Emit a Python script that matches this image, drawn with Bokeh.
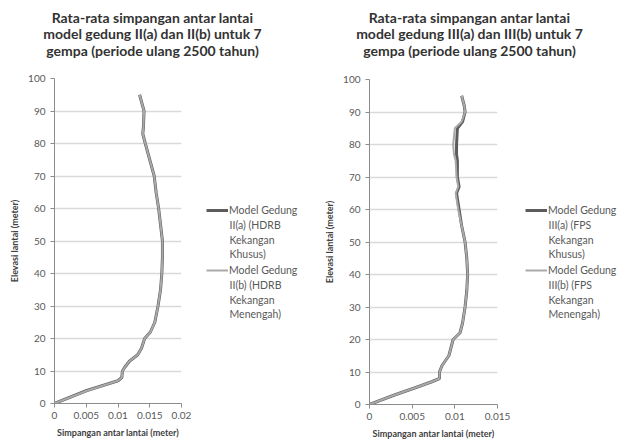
from bokeh.plotting import figure
from bokeh.layouts import row, column
from bokeh.models import (Label, Legend, LegendItem, FixedTicker, CustomJSTickFormatter, Range1d)
from bokeh.embed import file_html
from bokeh.resources import INLINE

# ---------------- data ----------------
titles_left = ["Rata-rata simpangan antar lantai",
               "model gedung II(a) dan II(b) untuk 7",
               "gempa (periode ulang 2500 tahun)"]
titles_right = ["Rata-rata simpangan antar lantai",
                "model gedung III(a) dan III(b) untuk 7",
                "gempa (periode ulang 2500 tahun)"]

y_ticks = [0, 10, 20, 30, 40, 50, 60, 70, 80, 90, 100]
x_ticks_left = [0, 0.005, 0.01, 0.015, 0.02]
x_ticks_right = [0, 0.005, 0.01, 0.015]

elev_left = [0, 4, 7, 8, 10, 11, 13, 15, 17, 20, 22, 25, 30, 35, 40, 45, 50,
             55, 60, 65, 70, 75, 80, 83, 85, 90, 95]
drift_IIa = [0, 0.0051, 0.0100, 0.0106, 0.0107, 0.0110, 0.0118, 0.0131, 0.0137,
             0.0142, 0.0151, 0.0158, 0.0163, 0.0167, 0.0169, 0.0170, 0.0170,
             0.0167, 0.0164, 0.0160, 0.0157, 0.0150, 0.0143, 0.0139, 0.0140,
             0.0141, 0.0134]
drift_IIb = [0, 0.0052, 0.0100, 0.0106, 0.0107, 0.0110, 0.0118, 0.0131, 0.0137,
             0.0142, 0.0151, 0.0158, 0.0163, 0.0167, 0.0169, 0.0170, 0.0170,
             0.0167, 0.0164, 0.0160, 0.0157, 0.0150, 0.0143, 0.0139, 0.0140,
             0.0141, 0.0134]

elev_right = [0, 3, 5, 7, 8, 10, 12, 15, 17, 20, 22, 25, 30, 35, 40, 45, 50,
              55, 60, 65, 67, 70, 75, 77, 80, 85, 87, 90, 92, 95]
drift_IIIa = [0, 0.0030, 0.0052, 0.0073, 0.0082, 0.0082, 0.0085, 0.0093, 0.0095,
              0.0098, 0.0106, 0.0109, 0.0112, 0.0114, 0.0115, 0.0114, 0.0112,
              0.0108, 0.0105, 0.0102, 0.0105, 0.0103, 0.0103, 0.0102, 0.0102,
              0.0103, 0.0109, 0.0112, 0.0111, 0.0108]
drift_IIIb = [0, 0.0030, 0.0052, 0.0073, 0.0082, 0.0082, 0.0085, 0.0093, 0.0095,
              0.0098, 0.0106, 0.0109, 0.0112, 0.0114, 0.0115, 0.0114, 0.0112,
              0.0108, 0.0104, 0.0101, 0.0104, 0.0102, 0.0101, 0.0099, 0.0098,
              0.0100, 0.0108, 0.0112, 0.0111, 0.0108]

legend_left = [["Model Gedung", "II(a) (HDRB", "Kekangan", "Khusus)"],
               ["Model Gedung", "II(b) (HDRB", "Kekangan", "Menengah)"]]
legend_right = [["Model Gedung", "III(a) (FPS", "Kekangan", "Khusus)"],
                ["Model Gedung", "III(b) (FPS", "Kekangan", "Menengah)"]]

x_label = "Simpangan antar lantai (meter)"
y_label = "Elevasi lantai (meter)"

FONT = "Lato"
DARK = "#5c5c5c"
LIGHT = "#a9a9a9"
TITLE_H = 70
CHART_H = 443 - TITLE_H
LINE_STEP = 14.5


def bare(width, height):
    f = figure(width=width, height=height, output_backend="svg", toolbar_location=None,
               x_range=Range1d(0, 1), y_range=Range1d(0, 1),
               min_border_left=0, min_border_right=0,
               min_border_top=0, min_border_bottom=0)
    f.axis.visible = False
    f.grid.visible = False
    f.outline_line_color = None
    return f


def make_title(width, titles, cx):
    t = bare(width, TITLE_H)
    for i, txt in enumerate(titles):
        t.add_layout(Label(x=cx, y=TITLE_H - 16.7 - i * 16.7, x_units="screen",
                           y_units="screen", text=txt, text_align="center",
                           text_baseline="middle", text_font=FONT,
                           text_font_size="14px", text_font_style="bold",
                           text_color="#333333"))
    return t


def make_chart(x_ticks, elev, da, db, border_left, frame_w, top, bottom):
    p = figure(width=border_left + frame_w + 14, height=CHART_H, output_backend="svg",
               toolbar_location=None,
               x_range=Range1d(x_ticks[0], x_ticks[-1]), y_range=Range1d(0, 100),
               min_border_left=border_left, min_border_right=14,
               min_border_top=top, min_border_bottom=bottom)
    p.outline_line_color = None
    p.xgrid.visible = False
    p.ygrid.grid_line_color = "#d9d9d9"
    p.ygrid.grid_line_width = 1.5

    p.xaxis.ticker = FixedTicker(ticks=x_ticks)
    p.yaxis.ticker = FixedTicker(ticks=y_ticks)
    p.xaxis.formatter = CustomJSTickFormatter(code="return tick.toString();")
    for ax in (p.xaxis, p.yaxis):
        ax.axis_line_color = "#8c8c8c"
        ax.major_tick_line_color = "#8c8c8c"
        ax.major_tick_in = 0
        ax.major_tick_out = 4
        ax.minor_tick_line_color = None
        ax.major_label_text_font = FONT
        ax.major_label_text_font_size = "10px"
        ax.major_label_text_color = "#595959"
        ax.axis_label_text_font = FONT
        ax.axis_label_text_font_size = "9px"
        ax.axis_label_text_font_style = "bold"
        ax.axis_label_text_color = "#404040"
    p.xaxis.axis_label = x_label
    p.yaxis.axis_label = y_label
    p.xaxis.major_label_standoff = 4
    p.xaxis.axis_label_standoff = 5
    p.yaxis.major_label_standoff = 5
    p.yaxis.axis_label_standoff = 5

    p.line(da, elev, line_color=DARK, line_width=3)
    p.line(db, elev, line_color=LIGHT, line_width=2)
    return p


def make_legend(width, elev, da, db, labels, glyph_x, first_y, frame_bottom):
    # frame of this panel is aligned with the chart frame in the row layout;
    # screen y is measured upward from that frame's bottom edge
    lf = bare(width, CHART_H)
    # series drawn outside this panel's view; only their legend samples show
    lf.x_range = Range1d(10, 11)
    ra = lf.line(da, elev, line_color=DARK, line_width=3)
    rb = lf.line(db, elev, line_color=LIGHT, line_width=2)
    item_gap = 60
    legend = Legend(items=[LegendItem(label=labels[0][0], renderers=[ra]),
                           LegendItem(label=labels[1][0], renderers=[rb])],
                    location=(glyph_x, frame_bottom - first_y - item_gap - 7),
                    border_line_color=None, background_fill_alpha=0,
                    label_text_font=FONT, label_text_font_size="10.5px",
                    label_text_color="#595959", glyph_width=22, glyph_height=14,
                    label_height=14, label_standoff=1, spacing=item_gap - 14,
                    padding=0, margin=0)
    lf.add_layout(legend, "center")
    for k, lines in enumerate(labels):
        for j, txt in enumerate(lines[1:], start=1):
            lf.add_layout(Label(x=glyph_x + 23,
                                y=frame_bottom - first_y - k * item_gap - j * LINE_STEP,
                                x_units="screen", y_units="screen", text=txt,
                                text_align="left", text_baseline="middle",
                                text_font=FONT, text_font_size="10.5px",
                                text_color="#595959"))
    return lf


t1 = make_title(313, titles_left, 152)
t2 = make_title(314, titles_right, 156)
p1 = make_chart(x_ticks_left, elev_left, drift_IIa, drift_IIb, 54, 127, 8, 40)
p2 = make_chart(x_ticks_right, elev_right, drift_IIIa, drift_IIIb, 56, 128, 9, 39)
w1 = 54 + 127 + 14
w2 = 56 + 128 + 14
l1 = make_legend(313 - w1, elev_left, drift_IIa, drift_IIb, legend_left,
                 206 - w1, 210 - TITLE_H, CHART_H - 40)
l2 = make_legend(314 - w2, elev_right, drift_IIIa, drift_IIIb, legend_right,
                 525 - 313 - w2, 210 - TITLE_H, CHART_H - 39)

layout = row(column(t1, row(p1, l1)), column(t2, row(p2, l2)))
open("out.html", "w").write(file_html(layout, INLINE))
